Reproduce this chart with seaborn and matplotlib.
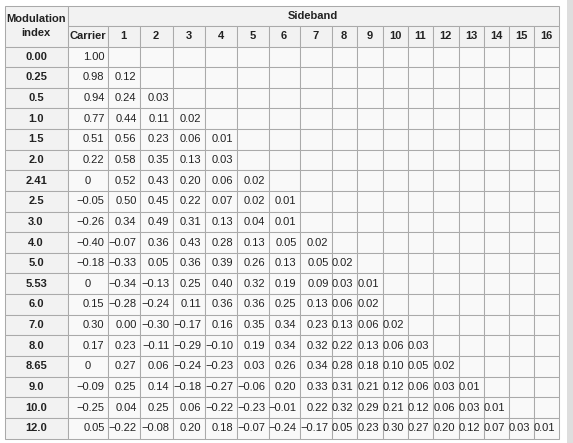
import numpy as np
import matplotlib
matplotlib.use("Agg")
import matplotlib.pyplot as plt
import seaborn as sns
from matplotlib.patches import Rectangle

# table content
mod_index = ["0.00", "0.25", "0.5", "1.0", "1.5", "2.0", "2.41", "2.5", "3.0", "4.0",
             "5.0", "5.53", "6.0", "7.0", "8.0", "8.65", "9.0", "10.0", "12.0"]
columns = ["Carrier"] + [str(i) for i in range(1, 17)]

m = "\u2212"  # minus sign
row_000 = ["1.00"]
row_025 = ["0.98", "0.12"]
row_05 = ["0.94", "0.24", "0.03"]
row_10 = ["0.77", "0.44", "0.11", "0.02"]
row_15 = ["0.51", "0.56", "0.23", "0.06", "0.01"]
row_20 = ["0.22", "0.58", "0.35", "0.13", "0.03"]
row_241 = ["0", "0.52", "0.43", "0.20", "0.06", "0.02"]
row_25 = [m + "0.05", "0.50", "0.45", "0.22", "0.07", "0.02", "0.01"]
row_30 = [m + "0.26", "0.34", "0.49", "0.31", "0.13", "0.04", "0.01"]
row_40 = [m + "0.40", m + "0.07", "0.36", "0.43", "0.28", "0.13", "0.05", "0.02"]
row_50 = [m + "0.18", m + "0.33", "0.05", "0.36", "0.39", "0.26", "0.13", "0.05", "0.02"]
row_553 = ["0", m + "0.34", m + "0.13", "0.25", "0.40", "0.32", "0.19", "0.09", "0.03", "0.01"]
row_60 = ["0.15", m + "0.28", m + "0.24", "0.11", "0.36", "0.36", "0.25", "0.13", "0.06", "0.02"]
row_70 = ["0.30", "0.00", m + "0.30", m + "0.17", "0.16", "0.35", "0.34", "0.23", "0.13", "0.06", "0.02"]
row_80 = ["0.17", "0.23", m + "0.11", m + "0.29", m + "0.10", "0.19", "0.34", "0.32", "0.22", "0.13",
          "0.06", "0.03"]
row_865 = ["0", "0.27", "0.06", m + "0.24", m + "0.23", "0.03", "0.26", "0.34", "0.28", "0.18",
           "0.10", "0.05", "0.02"]
row_90 = [m + "0.09", "0.25", "0.14", m + "0.18", m + "0.27", m + "0.06", "0.20", "0.33", "0.31",
          "0.21", "0.12", "0.06", "0.03", "0.01"]
row_100 = [m + "0.25", "0.04", "0.25", "0.06", m + "0.22", m + "0.23", m + "0.01", "0.22", "0.32",
           "0.29", "0.21", "0.12", "0.06", "0.03", "0.01"]
row_120 = ["0.05", m + "0.22", m + "0.08", "0.20", "0.18", m + "0.07", m + "0.24", m + "0.17", "0.05",
           "0.23", "0.30", "0.27", "0.20", "0.12", "0.07", "0.03", "0.01"]
rows = [row_000, row_025, row_05, row_10, row_15, row_20, row_241, row_25, row_30, row_40,
        row_50, row_553, row_60, row_70, row_80, row_865, row_90, row_100, row_120]

# layout (pixels)
col_edges = [4, 67, 107, 139, 172, 204, 236, 268, 299, 331, 356, 382, 407, 432, 458, 483, 508, 533, 558]
head_edges = [5, 25, 46]
row_h = (438 - 46) / len(mod_index)

head_bg = "#f2f2f2"
cell_bg = "#f9f9f9"
line_c = "#aaaaaa"
fs = 8

sns.set_theme(style="white")
plt.rcParams["font.family"] = ["Liberation Sans", "DejaVu Sans"]

fig = plt.figure(figsize=(5.73, 4.43), dpi=100)
ax = fig.add_axes([0, 0, 1, 1])
ax.set_xlim(0, 573)
ax.set_ylim(443, 0)
ax.axis("off")


def cell(x0, y0, x1, y1, bg):
    ax.add_patch(Rectangle((x0 + 0.5, y0 + 0.5), x1 - x0, y1 - y0, facecolor=bg,
                           edgecolor=line_c, linewidth=0.75))


# scrollbar-like strip on the right
ax.add_patch(Rectangle((567, 0), 6, 443, facecolor="#dedede", edgecolor="none"))

# headers
cell(col_edges[0], head_edges[0], col_edges[1], head_edges[2], head_bg)
ax.text((col_edges[0] + col_edges[1]) / 2 + 0.5, (head_edges[0] + head_edges[2]) / 2 + 0.5,
        "Modulation\nindex", ha="center", va="center", fontsize=fs, fontweight="bold",
        linespacing=1.45, color="#222222")
cell(col_edges[1], head_edges[0], col_edges[-1], head_edges[1], head_bg)
ax.text((col_edges[1] + col_edges[-1]) / 2, (head_edges[0] + head_edges[1]) / 2 + 0.5,
        "Sideband", ha="center", va="center", fontsize=fs, fontweight="bold", color="#222222")
for j, name in enumerate(columns):
    x0, x1 = col_edges[j + 1], col_edges[j + 2]
    cell(x0, head_edges[1], x1, head_edges[2], head_bg)
    ax.text((x0 + x1) / 2 + 0.5, (head_edges[1] + head_edges[2]) / 2 + 0.5, name,
            ha="center", va="center", fontsize=fs, fontweight="bold", color="#222222")

# body
for i, (idx, vals) in enumerate(zip(mod_index, rows)):
    y0 = head_edges[2] + i * row_h
    y1 = y0 + row_h
    yc = (y0 + y1) / 2 + 0.5
    cell(col_edges[0], y0, col_edges[1], y1, head_bg)
    ax.text((col_edges[0] + col_edges[1]) / 2 + 0.5, yc, idx, ha="center", va="center",
            fontsize=fs, fontweight="bold", color="#222222")
    for j in range(len(columns)):
        x0, x1 = col_edges[j + 1], col_edges[j + 2]
        cell(x0, y0, x1, y1, cell_bg)
        if j < len(vals):
            v = vals[j]
            if v == "0":
                ax.text((x0 + x1) / 2 + 0.5, yc, v, ha="center", va="center",
                        fontsize=fs, color="#222222")
            else:
                ax.text(x1 - 2.5, yc, v, ha="right", va="center", fontsize=fs, color="#222222")

fig.savefig("out.png", dpi=100)
